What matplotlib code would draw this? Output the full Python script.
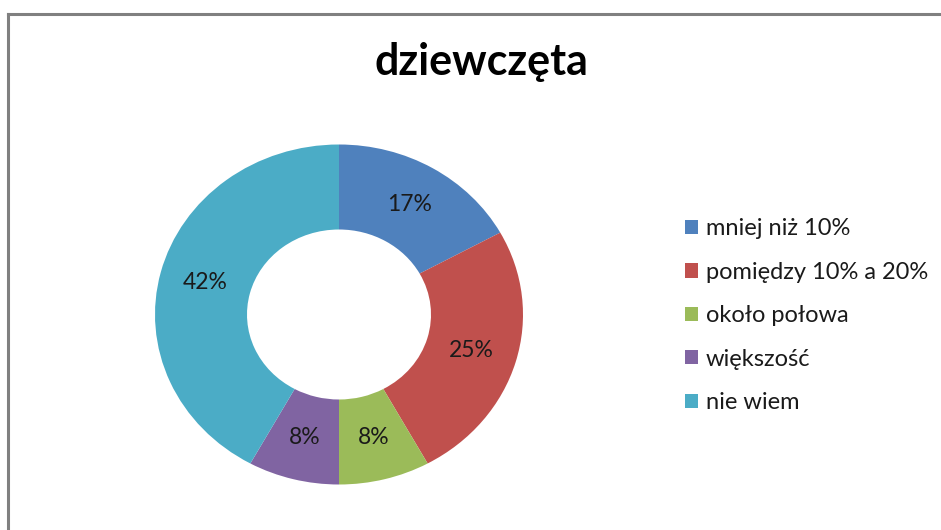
import matplotlib.pyplot as plt
from matplotlib.lines import Line2D
from matplotlib.patches import Patch

title = 'dziewczęta'
categories = ['mniej niż 10%', 'pomiędzy 10% a 20%', 'około połowa', 'większość', 'nie wiem']
values = [17, 25, 8, 8, 42]
colors = ['#4F81BD', '#C0504D', '#9BBB59', '#8064A2', '#4BACC6']

plt.rcParams['font.family'] = ['Lato', 'DejaVu Sans']

W, H = 941, 530
fig = plt.figure(figsize=(W / 100, H / 100), dpi=100)

# donut is slightly stretched horizontally in the original, so aspect is left auto
cx, cy, rx, ry = 339, 314.5, 184, 170
ax = fig.add_axes([(cx - rx) / W, (H - cy - ry) / H, 2 * rx / W, 2 * ry / H])
wedges, texts, autotexts = ax.pie(values, colors=colors, startangle=90, counterclock=False,
                                  radius=1.0, wedgeprops=dict(width=0.5, linewidth=0),
                                  autopct='%1.0f%%', pctdistance=0.75,
                                  textprops=dict(fontsize=16.5, color='#1a1a1a'))
ax.set_aspect('auto')
ax.set_xlim(-1, 1)
ax.set_ylim(-1, 1)
ax.axis('off')

fig.text(481 / W, 1 - 62 / H, title, ha='center', va='center', fontsize=31,
         fontweight='bold', color='black')

handles = [Patch(facecolor=c, edgecolor='none') for c in colors]
fig.legend(handles, categories, loc='upper left',
           bbox_to_anchor=(676 / W, 1 - 209 / H), frameon=False, borderaxespad=0,
           fontsize=17, handlelength=0.55, handleheight=0.55, handletextpad=0.3,
           labelspacing=0.95, labelcolor='#1a1a1a')

# grey frame, only top and left edges are visible in the original
fig.add_artist(Line2D([7.5 / W, 1], [1 - 14 / H, 1 - 14 / H], color='#808080', lw=2.2))
fig.add_artist(Line2D([7.5 / W, 7.5 / W], [0, 1 - 14 / H], color='#808080', lw=2.2))

fig.savefig('out.png', dpi=100)
